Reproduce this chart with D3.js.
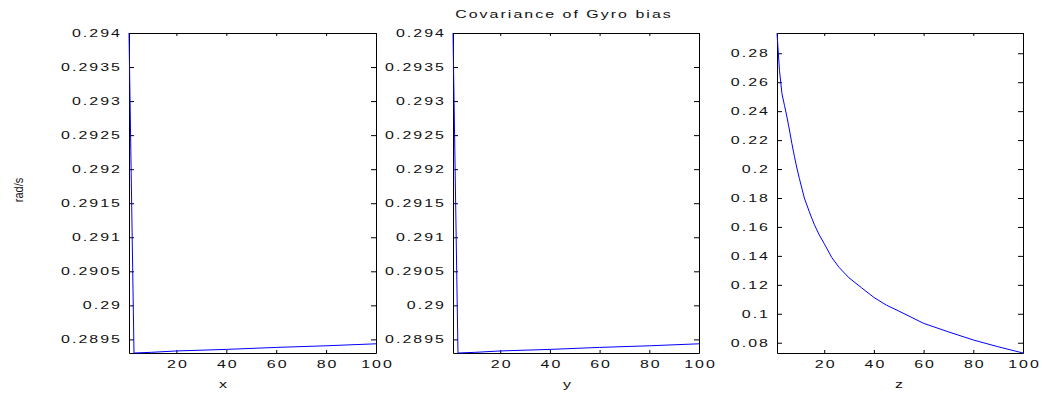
<!DOCTYPE html>
<html>
<head>
<meta charset="utf-8">
<script src="https://cdn.jsdelivr.net/npm/d3@7"></script>
<style>
  body { margin: 0; background: #fff; }
  text { font-family: "Liberation Sans", Arial, sans-serif; font-size: 11px; fill: #111; letter-spacing: 1.4px; }
</style>
</head>
<body>
<div id="scene"></div>
<script>
// Covariance of Gyro bias - three panels (x, y, z)
const stepTicks = [20, 40, 60, 80, 100];
const stepTickLabels = ["20", "40", "60", "80", "100"];

const xyTicks = [0.2895, 0.29, 0.2905, 0.291, 0.2915, 0.292, 0.2925, 0.293, 0.2935, 0.294];
const xyTickLabels = ["0.2895", "0.29", "0.2905", "0.291", "0.2915", "0.292", "0.2925", "0.293", "0.2935", "0.294"];
const zTicks = [0.08, 0.1, 0.12, 0.14, 0.16, 0.18, 0.2, 0.22, 0.24, 0.26, 0.28];
const zTickLabels = ["0.08", "0.1", "0.12", "0.14", "0.16", "0.18", "0.2", "0.22", "0.24", "0.26", "0.28"];

const stepsXY = [1, 2, 3, 10, 20, 40, 60, 80, 100];
const covX = [0.294, 0.29165, 0.2893, 0.28931, 0.28933, 0.289353, 0.289382, 0.289406, 0.289435];
const covY = [0.294, 0.29165, 0.2893, 0.28931, 0.28933, 0.289353, 0.289382, 0.289406, 0.289435];

const stepsZ = [1, 2, 3, 4, 5, 6, 7, 8, 9, 10, 12, 14, 16, 18, 20, 23, 26, 30, 35, 40, 45, 50, 60, 70, 80, 90, 100];
const covZ = [0.2939, 0.268, 0.252, 0.244, 0.236, 0.227, 0.2175, 0.2088, 0.2007, 0.1935, 0.18, 0.1705, 0.1617, 0.1545, 0.1485,
              0.139, 0.132, 0.1248, 0.118, 0.1113, 0.106, 0.1019, 0.0934, 0.0875, 0.0819, 0.0772, 0.0729];

const width = 1042, height = 396;
const SX = 1.45; // text in the picture is stretched sideways

const svg = d3.select("#scene")
  .append("svg")
  .attr("width", width)
  .attr("height", height);

function stretchText(sel) {
  sel.selectAll("text")
    .attr("transform", `scale(${SX},1)`)
    .attr("x", function() { return (+d3.select(this).attr("x") || 0) / SX; });
}

function drawPanel(p) {
  const x = d3.scaleLinear().domain([1, 100]).range([p.left, p.right]);
  const y = d3.scaleLinear().domain(p.domain).range([353, 33]);
  const g = svg.append("g");

  // bottom axis with labels
  const bottom = g.append("g")
    .attr("transform", `translate(1,353)`)
    .call(d3.axisBottom(x).tickValues(stepTicks).tickSizeInner(-3).tickSizeOuter(0).tickPadding(7)
      .tickFormat((d, i) => stepTickLabels[i]));
  stretchText(bottom);
  bottom.selectAll(".tick line").attr("transform", "translate(-1,0)");
  bottom.select(".domain").attr("transform", "translate(-1,0)");

  // top axis (box)
  g.append("g")
    .attr("transform", `translate(0,33)`)
    .call(d3.axisTop(x).tickValues(stepTicks).tickSizeInner(-3).tickSizeOuter(0).tickFormat(""));

  // left axis with labels
  const left = g.append("g")
    .attr("transform", `translate(${p.left},0)`)
    .call(d3.axisLeft(y).tickValues(p.ticks).tickSizeInner(-5).tickSizeOuter(0).tickPadding(7)
      .tickFormat((d, i) => p.labels[i]));
  stretchText(left);

  // right axis (box)
  g.append("g")
    .attr("transform", `translate(${p.right},0)`)
    .call(d3.axisRight(y).tickValues(p.ticks).tickSizeInner(-5).tickSizeOuter(0).tickFormat(""));

  g.selectAll(".domain").attr("stroke", "#000");
  g.selectAll(".tick line").attr("stroke", "#000");
  g.selectAll(".tick text").attr("font-size", "11px").attr("font-family", null).attr("fill", "#111");

  const line = d3.line()
    .x(d => x(d[0]))
    .y(d => y(d[1]));

  g.append("path")
    .datum(p.steps.map((s, i) => [s, p.values[i]]))
    .attr("fill", "none")
    .attr("stroke", "#0000ff")
    .attr("stroke-width", 1)
    .attr("d", line);

  // axis name under the panel
  g.append("text")
    .attr("transform", `translate(${p.labelX},388) scale(${SX},1)`)
    .attr("text-anchor", "middle")
    .text(p.name);
}

drawPanel({left: 129, right: 376, domain: [0.2893, 0.294], ticks: xyTicks, labels: xyTickLabels,
  steps: stepsXY, values: covX, name: "x", labelX: 224});
drawPanel({left: 453, right: 699, domain: [0.2893, 0.294], ticks: xyTicks, labels: xyTickLabels,
  steps: stepsXY, values: covY, name: "y", labelX: 568});
drawPanel({left: 777, right: 1023, domain: [0.0729, 0.294], ticks: zTicks, labels: zTickLabels,
  steps: stepsZ, values: covZ, name: "z", labelX: 900});

// Title
svg.append("text")
  .attr("transform", `translate(564,17.5) scale(${SX},1)`)
  .attr("text-anchor", "middle")
  .text("Covariance of Gyro bias");

// Y-axis label
svg.append("text")
  .attr("transform", `translate(23,190) rotate(-90) scale(1,1.2)`)
  .attr("text-anchor", "middle")
  .style("letter-spacing", "0px")
  .text("rad/s");
</script>
</body>
</html>
